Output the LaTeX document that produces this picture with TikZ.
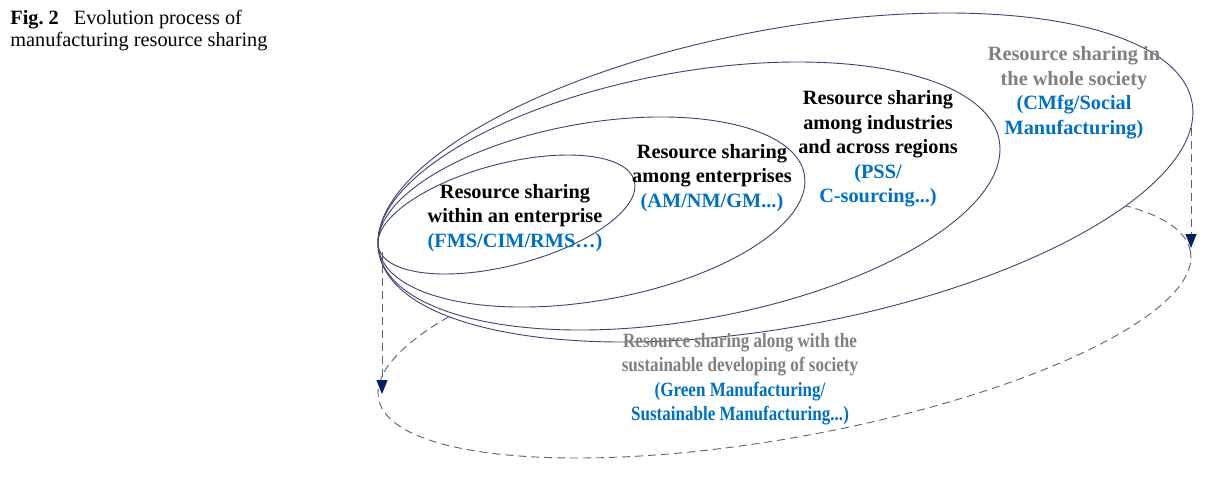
\documentclass[tikz,border=0pt]{standalone}
\usepackage{fontspec}
\setmainfont{Liberation Serif}
\usepackage{graphicx}
\usetikzlibrary{arrows.meta,positioning}
\definecolor{ringcol}{RGB}{62,66,110}
\definecolor{dashcol}{RGB}{90,95,130}
\definecolor{tipcol}{RGB}{0,32,96}
\definecolor{bluecol}{RGB}{0,112,192}
\definecolor{greycol}{RGB}{128,128,128}
\tikzstyle{ring} = [draw=ringcol,line width=0.45pt]
\tikzstyle{dashring} = [draw=dashcol,line width=0.45pt,dash pattern=on 4pt off 2.5pt]
\tikzstyle{arrow} = [dashring,-{Triangle[length=7pt,width=5.5pt,color=tipcol]}]
\tikzstyle{stage} = [align=center,inner sep=0pt,font=\fontsize{10.15pt}{12.25pt}\selectfont\bfseries]
\newcommand{\squeeze}[1]{\scalebox{0.84}[1]{#1}}

\begin{document}
\begin{tikzpicture}[x=0.5pt,y=-0.5pt]
    \useasboundingbox (0,0) rectangle (1217,479);
    % centres of the rings
    \coordinate (c_1) at (506.5,214.5);
    \coordinate (c_2) at (591.5,212);
    \coordinate (c_3) at (689,196);
    \coordinate (c_4) at (785.5,177.5);
    \coordinate (c_5) at (784.5,325);
    % dashed ring first, the society ring covers its upper part
    \draw[dashring,rotate around={10.27:(c_5)}] (c_5) ellipse [x radius=206.3pt,y radius=56.3pt];
    \path[ring,fill=white,rotate around={10.5:(c_4)}] (c_4) ellipse [x radius=206.75pt,y radius=74.35pt];
    \path[ring,rotate around={10.18:(c_3)}] (c_3) ellipse [x radius=157.6pt,y radius=61.9pt];
    \path[ring,rotate around={9.95:(c_2)}] (c_2) ellipse [x radius=108.1pt,y radius=44.35pt];
    \path[ring,rotate around={14.7:(c_1)}] (c_1) ellipse [x radius=66.1pt,y radius=25.4pt];
    % arrows
    \coordinate (a_top) at (382,252);
    \coordinate (a_bot) at (382,394);
    \coordinate (b_top) at (1191,128);
    \coordinate (b_bot) at (1191,248);
    \draw[arrow] (a_top) -- (a_bot);
    \draw[arrow] (b_top) -- (b_bot);
    % texts
    \node[anchor=base west,align=left,inner sep=0pt,font=\fontsize{10.15pt}{11pt}\selectfont] (cap) at (10,46) {\textbf{Fig.~2}\hspace{7.5pt}Evolution process of\\manufacturing resource sharing};
    \node[stage] (t_1) at (515,218) {Resource sharing\\within an enterprise\\\textcolor{bluecol}{(FMS/CIM/RMS…)}};
    \node[stage] (t_2) at (712,178) {Resource sharing\\among enterprises\\\textcolor{bluecol}{(AM/NM/GM...)}};
    \node[stage] (t_3) at (878,149) {Resource sharing\\among industries\\and across regions\\\textcolor{bluecol}{(PSS/}\\\textcolor{bluecol}{C-sourcing...)}};
    \node[stage,text=greycol] (t_4) at (1074,92.5) {Resource sharing in\\the whole society\\\textcolor{bluecol}{(CMfg/Social}\\\textcolor{bluecol}{Manufacturing)}};
    \node[stage,text=greycol] (t_5) at (740,379) {\squeeze{Resource sharing along with the}\\\squeeze{sustainable developing of society}\\\squeeze{\textcolor{bluecol}{(Green Manufacturing/}}\\\squeeze{\textcolor{bluecol}{Sustainable Manufacturing...)}}};
\end{tikzpicture}
\end{document}
